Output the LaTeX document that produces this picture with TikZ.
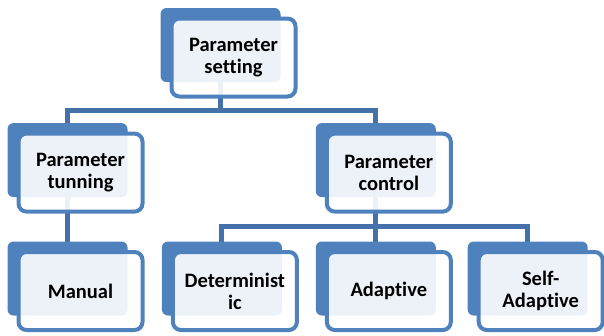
\documentclass[tikz,border=0pt]{standalone}
\usepackage{fontspec}
\setmainfont{Carlito}[Ligatures={NoCommon,NoContextual}]
\usepackage{tikz}
\usetikzlibrary{positioning,backgrounds}
\definecolor{boxblue}{HTML}{4F81BD}
\definecolor{linkblue}{HTML}{4471AA}

\begin{document}
\begin{tikzpicture}[x=1pt, y=-1pt,
  back/.style={fill=boxblue, rounded corners=6pt, minimum width=120pt, minimum height=74pt, inner sep=0pt},
  front/.style={draw=boxblue, line width=4pt, fill=white, fill opacity=0.9, text opacity=1,
    rounded corners=8pt, minimum width=124pt, minimum height=78pt, inner sep=0pt,
    align=center, font=\bfseries\fontsize{20.5}{22}\selectfont},
  link/.style={draw=linkblue, line width=5pt}]
\useasboundingbox (0,0) rectangle (604,335);

%%%%% Back boxes %%%%%
\node[back] (setting) at (220.5,45) {};
\node[back] (manual) at (67.5,278.5) {};
\node[back, right=34pt of manual] (determ) {};
\node[back, right=33.5pt of determ] (adaptive) {};
\node[back, right=31.5pt of adaptive] (selfad) {};
\node[back, above=44pt of manual] (tuning) {};
\node[back, above=44pt of adaptive] (control) {};
\coordinate (bus1) at (0,110);
\coordinate (bus2) at (0,226.5);

%%%%% Connectors %%%%%
\begin{pgfonlayer}{background}
\draw[link] (setting.center) -- (setting |- bus1);
\draw[link] (tuning.center) |- (bus1 -| control) -- (control.center);
\draw[link] (tuning.center) -- (manual.center);
\draw[link] (determ.center) |- (bus2 -| selfad) -- (selfad.center);
\draw[link] (control.center) -- (adaptive.center);
\end{pgfonlayer}

%%%%% Front boxes %%%%%
\foreach \n/\t in {setting/{Parameter\\setting}, tuning/{Parameter\\tunning},
  control/{Parameter\\control}, manual/{Manual}, determ/{Determinist\\ic},
  adaptive/{Adap\kern0pt tive}, selfad/{Self-\\Adap\kern0pt tive}}{
\node[front] (\n-f) at ([shift={(13,12.5)}]\n) {\t};
}
\end{tikzpicture}
\end{document}
